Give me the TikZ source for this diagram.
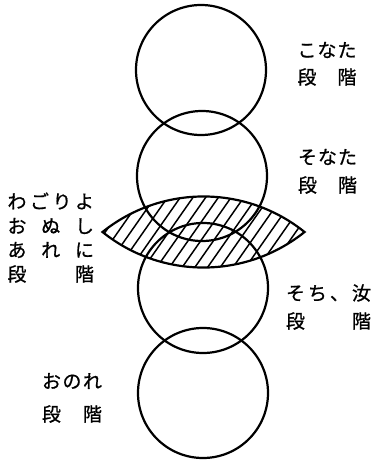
\documentclass[tikz,border=0pt]{standalone}
\usepackage{fontspec}
\newfontfamily\jp[FakeBold=0.8]{Noto Sans CJK JP}
\newcommand{\cb}[2][20pt]{\makebox[#1]{#2}}
\begin{document}
\begin{tikzpicture}[x=1pt,y=-1pt,
  ring/.style={circle,draw,line width=2.2pt,inner sep=0pt,minimum size=130pt},
  lbl/.style={inner sep=0pt,font=\jp\fontsize{19}{19}\selectfont},
  hatch/.style={line width=1.5pt},
  lensline/.style={line width=2.2pt,line join=miter}]
\useasboundingbox (0,0) rectangle (374,461);
\node[ring] (c1) at (201,70) {};
\node[ring] (c2) at (202,176) {};
\node[ring] (c3) at (203,288) {};
\node[ring] (c4) at (203,393) {};
% lens
\coordinate (L) at (102.5,232);
\begin{scope}
\clip (L) arc[start angle=-128.75,end angle=-51.25,radius=161.4]
          arc[start angle=51.25,end angle=128.75,radius=161.4] -- cycle;
\foreach \k in {0,...,21} \draw[hatch] (52+\k*12.7,290) -- ++(70,-100);
\end{scope}
\draw[lensline] (L) arc[start angle=-128.75,end angle=-51.25,radius=161.4]
          arc[start angle=51.25,end angle=128.75,radius=161.4] -- cycle;
% labels right
\node[lbl] (a1) at (327,50) {\cb{こ}\cb{な}\cb{た}};
\node[lbl] (a2) at (327,77) {\cb{段}\cb{}\cb{階}};
\node[lbl] (b1) at (327.5,157) {\cb{そ}\cb{な}\cb{た}};
\node[lbl] (b2) at (327.5,185) {\cb{段}\cb{}\cb{階}};
\node[lbl] (d1) at (328.5,293) {\cb[22pt]{そ}\cb[22pt]{ち}\cb[22pt]{、}\cb[22pt]{汝}};
\node[lbl] (d2) at (328.5,321) {\cb[22pt]{段}\cb[22pt]{}\cb[22pt]{}\cb[22pt]{階}};
% labels left
\node[lbl] (e1) at (72,381) {\cb[20.5pt]{お}\cb[20.5pt]{の}\cb[20.5pt]{れ}};
\node[lbl] (e2) at (72,414) {\cb[20.5pt]{段}\cb[20.5pt]{}\cb[20.5pt]{階}};
\node[lbl] (f1) at (50.75,201) {\cb[22.5pt]{わ}\cb[22.5pt]{ご}\cb[22.5pt]{り}\cb[22.5pt]{よ}};
\node[lbl] (f2) at (50.75,226) {\cb[33.75pt]{お}\cb[33.75pt]{ぬ}\cb[33.75pt]{し}};
\node[lbl] (f3) at (50.75,250) {\cb[33.75pt]{あ}\cb[33.75pt]{れ}\cb[33.75pt]{に}};
\node[lbl] (f4) at (50.75,274) {\cb[33.75pt]{段}\cb[33.75pt]{}\cb[33.75pt]{階}};
\end{tikzpicture}
\end{document}
